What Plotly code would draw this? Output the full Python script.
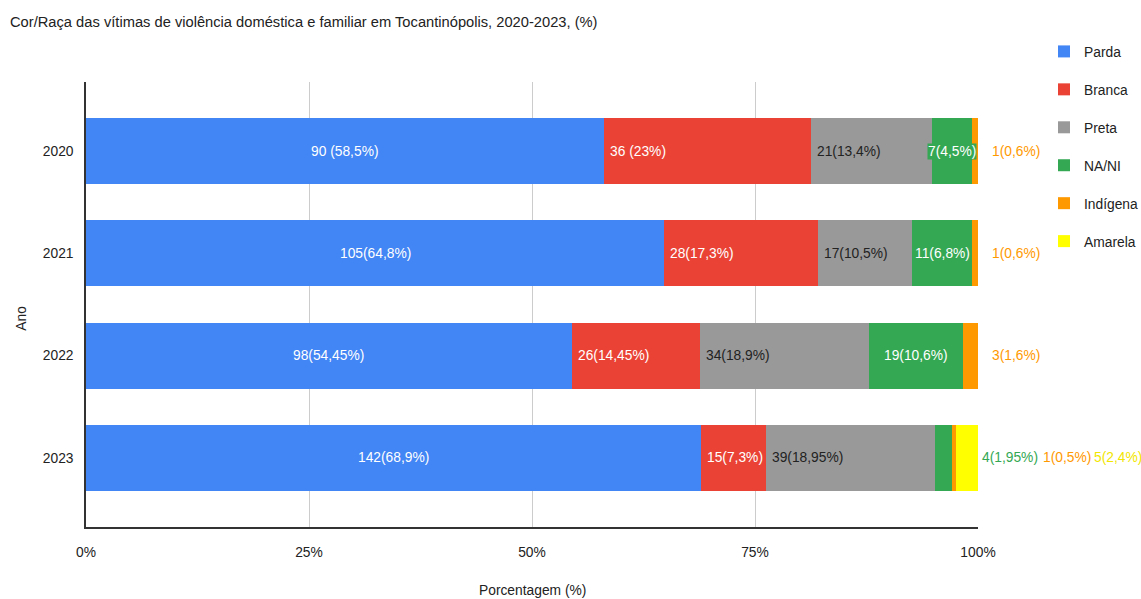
import plotly.graph_objects as go

years = ["2020", "2021", "2022", "2023"]
series = ["Parda", "Branca", "Preta", "NA/NI", "Indígena", "Amarela"]

parda = [90, 105, 98, 142]
branca = [36, 28, 26, 15]
preta = [21, 17, 34, 39]
nani = [7, 11, 19, 4]
indigena = [1, 1, 3, 1]
amarela = [0, 0, 0, 5]

parda_lbl = ["90 (58,5%)", "105(64,8%)", "98(54,45%)", "142(68,9%)"]
branca_lbl = ["36 (23%)", "28(17,3%)", "26(14,45%)", "15(7,3%)"]
preta_lbl = ["21(13,4%)", "17(10,5%)", "34(18,9%)", "39(18,95%)"]
nani_lbl = ["7(4,5%)", "11(6,8%)", "19(10,6%)", "4(1,95%)"]
indigena_lbl = ["1(0,6%)", "1(0,6%)", "3(1,6%)", "1(0,5%)"]
amarela_lbl = ["", "", "", "5(2,4%)"]

x_ticks = [0, 25, 50, 75, 100]
x_tick_text = ["0%", "25%", "50%", "75%", "100%"]

counts = [parda, branca, preta, nani, indigena, amarela]
labels = [parda_lbl, branca_lbl, preta_lbl, nani_lbl, indigena_lbl, amarela_lbl]

colors = ["#4285F4", "#EA4335", "#999999", "#34A853", "#FF9900", "#FFFF00"]
label_colors = ["#FFFFFF", "#FFFFFF", "#222222", "#FFFFFF", "#FF9900", "#F2E600"]
outside_colors = ["#4285F4", "#EA4335", "#222222", "#34A853", "#FF9900", "#F2E600"]
# placement: 'c' centred, 'l' left-aligned inside, 'o' outside (right of bar)
placement = ["c", "l", "l", "c", "o", "o"]

FONT = "Liberation Sans, Arial, sans-serif"
FS = 13.8

totals = [sum(c[i] for c in counts) for i in range(len(years))]
pcts = [[c[i] / totals[i] * 100 for i in range(len(years))] for c in counts]

fig = go.Figure()
for s, name in enumerate(series):
    fig.add_trace(go.Bar(
        y=years, x=pcts[s], name=name, orientation="h",
        marker=dict(color=colors[s], line=dict(width=0)),
        width=0.645, legendgroup=name, hoverinfo="skip",
    ))

annotations = []
for i, yr in enumerate(years):
    start = 0.0
    outside = []
    for s in range(len(series)):
        w = pcts[s][i]
        txt = labels[s][i]
        if txt:
            mode = placement[s]
            if mode == "c" and w < 3:
                mode = "o"
            if mode == "c":
                ann = dict(x=start + w / 2, y=i, xanchor="center")
                if s == 3:
                    ann.update(bgcolor=colors[3], borderpad=0)
                annotations.append(dict(ann, text=txt, xref="x", yref="y", yanchor="middle",
                                        showarrow=False,
                                        font=dict(family=FONT, size=FS, color=label_colors[s])))
            elif mode == "l":
                annotations.append(dict(x=start, y=i, xanchor="left", xshift=4, text=txt,
                                        xref="x", yref="y", yanchor="middle", showarrow=False,
                                        font=dict(family=FONT, size=FS, color=label_colors[s])))
            else:
                outside.append((s, txt))
        start += w
    if len(outside) == 1:
        shifts = [12]
    else:
        shifts = [2, 63, 114][:len(outside)]
    for (s, txt), sh in zip(outside, shifts):
        annotations.append(dict(x=100, y=i, xanchor="left", xshift=sh, text=txt,
                                xref="x", yref="y", yanchor="middle", showarrow=False,
                                font=dict(family=FONT, size=FS, color=outside_colors[s])))

annotations.append(dict(text="Ano", x=-0.072, y=0.47, xref="paper", yref="paper",
                        textangle=-90, showarrow=False, xanchor="center", yanchor="middle",
                        font=dict(family=FONT, size=FS, color="#222222")))
annotations.append(dict(text="Porcentagem (%)", x=0.5, y=(599 - 72 - 590) / (599 - 82 - 72),
                        xref="paper", yref="paper",
                        showarrow=False, xanchor="center", yanchor="middle",
                        font=dict(family=FONT, size=FS, color="#222222")))

fig.update_layout(
    barmode="stack",
    width=1141, height=599,
    margin=dict(l=86, r=163, t=82, b=72, autoexpand=False),
    paper_bgcolor="white", plot_bgcolor="white",
    font=dict(family=FONT, size=FS, color="#222222"),
    title=dict(text="Cor/Raça das vítimas de violência doméstica e familiar em Tocantinópolis, 2020-2023, (%)",
               x=10 / 1141, xanchor="left", y=1 - 22 / 599, yanchor="middle",
               font=dict(family=FONT, size=14.7, color="#222222")),
    legend=dict(x=1.074, xanchor="left", y=1.1035, yanchor="top", tracegroupgap=17,
                traceorder="grouped", font=dict(family=FONT, size=FS, color="#222222"),
                itemclick=False, itemdoubleclick=False),
    annotations=annotations,
    showlegend=True,
)
fig.update_xaxes(range=[0, 100], tickmode="array", tickvals=x_ticks, ticktext=x_tick_text,
                 showgrid=True, gridcolor="#CCCCCC", gridwidth=1, zeroline=False,
                 showline=True, linecolor="#333333", linewidth=1.5, ticks="",
                 ticklabelstandoff=12, automargin=False,
                 tickfont=dict(family=FONT, size=FS, color="#222222"))
fig.update_yaxes(type="category", categoryorder="array", categoryarray=years,
                 range=[3.675, -0.675], showgrid=False, zeroline=False,
                 showline=True, linecolor="#333333", linewidth=1.5, ticks="",
                 ticklabelstandoff=8, automargin=False,
                 tickfont=dict(family=FONT, size=FS, color="#222222"))

fig.write_html("out.html", config={"displayModeBar": False},
               post_script="document.body.style.margin='0';")
